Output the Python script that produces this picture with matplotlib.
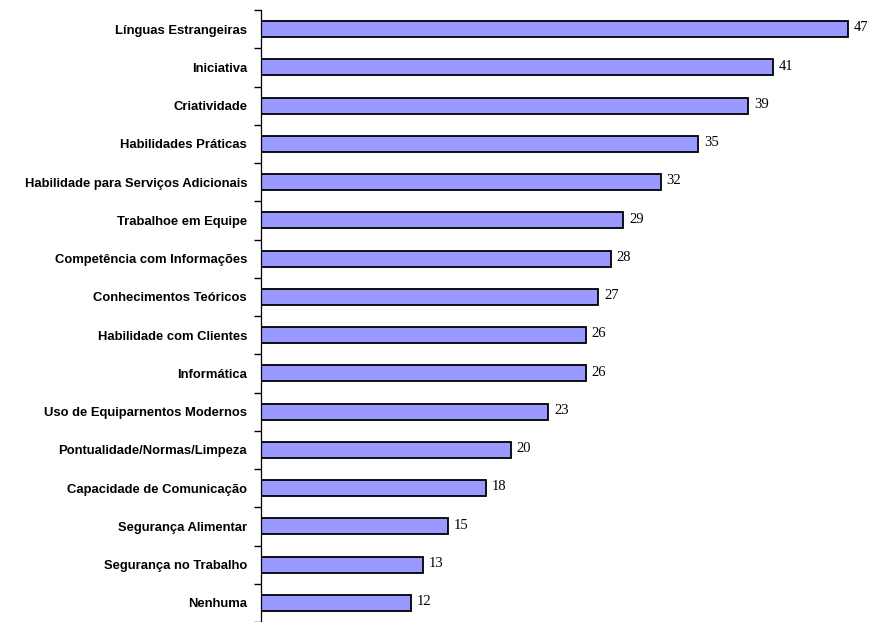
import matplotlib.pyplot as plt
import numpy as np

categories = ['Línguas Estrangeiras', 'Iniciativa', 'Criatividade',
              'Habilidades Práticas', 'Habilidade para Serviços Adicionais',
              'Trabalhoe em Equipe', 'Competência com Informações',
              'Conhecimentos Teóricos', 'Habilidade com Clientes',
              'Informática', 'Uso de Equiparnentos Modernos',
              'Pontualidade/Normas/Limpeza', 'Capacidade de Comunicação',
              'Segurança Alimentar', 'Segurança no Trabalho', 'Nenhuma']
values = [47, 41, 39, 35, 32, 29, 28, 27, 26, 26, 23, 20, 18, 15, 13, 12]

fig = plt.figure(figsize=(8.72, 6.22), dpi=100)
ax = fig.add_axes([261 / 872, 0, 1 - 261 / 872, 612 / 622])

n = len(categories)
y = np.arange(n)[::-1]
ax.barh(y, values, height=0.42, color='#9999FF', edgecolor='black', linewidth=1.3)

for yi, v in zip(y, values):
    ax.text(v + 0.45, yi + 0.03, str(v), va='center', ha='left',
            family='Liberation Serif', fontsize=10.5)

ax.set_xlim(0, 48.9)
ax.set_ylim(-0.36, n - 0.5)

ax.set_yticks(y)
ax.set_yticklabels(categories, family='Liberation Sans', fontweight='bold',
                   fontsize=9.4)
ax.tick_params(axis='y', which='major', length=0, pad=10)
ax.set_yticks(np.arange(n + 1) - 0.5, minor=True)
ax.tick_params(axis='y', which='minor', length=5, width=1, direction='out')

ax.set_xticks([])
for s in ['top', 'right', 'bottom']:
    ax.spines[s].set_visible(False)
ax.spines['left'].set_linewidth(0.9)

fig.savefig('out.png', dpi=100)
